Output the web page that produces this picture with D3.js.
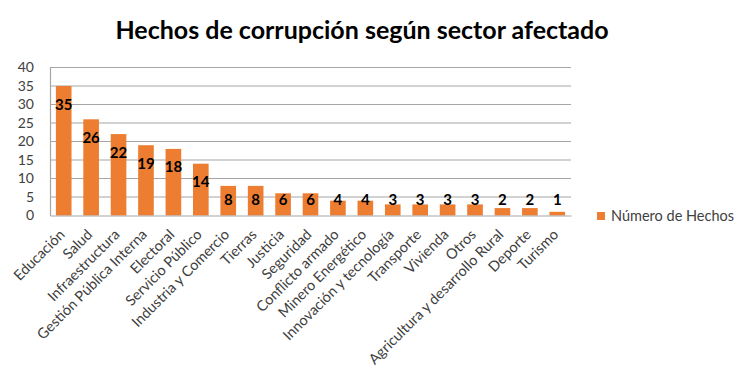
<!DOCTYPE html>
<html><head><meta charset="utf-8">
<script src="https://cdn.jsdelivr.net/npm/d3@7"></script>
<style>body{margin:0;background:#fff;} svg{display:block;}</style>
</head><body>
<script>
const categories = ["Educación","Salud","Infraestructura","Gestión Pública Interna","Electoral","Servicio Público","Industria y Comercio","Tierras","Justicia","Seguridad","Conflicto armado","Minero Energético","Innovación y tecnología","Transporte","Vivienda","Otros","Agricultura y desarrollo Rural","Deporte","Turismo"];
const values = [35,26,22,19,18,14,8,8,6,6,4,4,3,3,3,3,2,2,1];
const yTicks = [0,5,10,15,20,25,30,35,40];
const seriesName = "Número de Hechos";
const title = "Hechos de corrupción según sector afectado";

(function(){
const W=750,H=384;
const svg=d3.select("body").append("svg").attr("width",W).attr("height",H);
const font="Lato, 'Open Sans', sans-serif";
const pL=50,pR=571,pT=67.5,pB=215.5;
const x=d3.scaleBand().domain(categories).range([pL,pR]).paddingInner(0.43).paddingOuter(0.215);
const y=d3.scaleLinear().domain([0,40]).range([pB,pT]);

svg.append("text").attr("x",362).attr("y",39).attr("text-anchor","middle")
  .attr("font-family",font).attr("font-weight","bold").attr("font-size",25).attr("fill","#000").text(title);

// gridlines
svg.append("g").selectAll("line").data(yTicks.filter(d=>d>0)).join("line")
  .attr("x1",pL).attr("x2",pR).attr("y1",d=>y(d)).attr("y2",d=>y(d))
  .attr("stroke","#a6a6a6").attr("stroke-width",1.2);
// y axis
const ya=svg.append("g").attr("transform",`translate(${pL},0)`).call(d3.axisLeft(y).tickValues(yTicks).tickSize(0).tickPadding(16));
ya.select(".domain").attr("stroke","#a6a6a6").attr("stroke-width",1.2);
ya.selectAll("text").attr("font-family",font).attr("font-size",14).attr("fill","#404040");

// bars
svg.append("g").selectAll("rect").data(values).join("rect")
  .attr("x",(d,i)=>x(categories[i])).attr("width",x.bandwidth())
  .attr("y",d=>y(d)).attr("height",d=>y(0)-y(d)).attr("fill","#ED7D31");

// x axis
const xa=svg.append("g").attr("transform",`translate(0,${pB})`).call(d3.axisBottom(x).tickSize(0).tickPadding(0));
xa.select(".domain").attr("stroke","#a6a6a6").attr("stroke-width",1.2);
xa.selectAll("text").attr("font-family",font).attr("font-size",14.5).attr("fill","#404040")
  .attr("text-anchor","end").attr("dy",0)
  .attr("transform","translate(2,20) rotate(-45)");

// data labels
svg.append("g").selectAll("text").data(values).join("text")
  .attr("x",(d,i)=>x(categories[i])+x.bandwidth()/2)
  .attr("y",d=>Math.min(y(d)+18,199)+5.5)
  .attr("text-anchor","middle").attr("font-family",font).attr("font-weight","bold")
  .attr("font-size",15).attr("fill","#000").text(d=>d);

// legend
const lg=svg.append("g").attr("transform","translate(597,212)");
lg.append("rect").attr("width",8).attr("height",8).attr("fill","#ED7D31");
lg.append("text").attr("x",14).attr("y",9).attr("font-family",font).attr("font-size",14.5).attr("fill","#404040").text(seriesName);
})();
</script>
</body></html>
